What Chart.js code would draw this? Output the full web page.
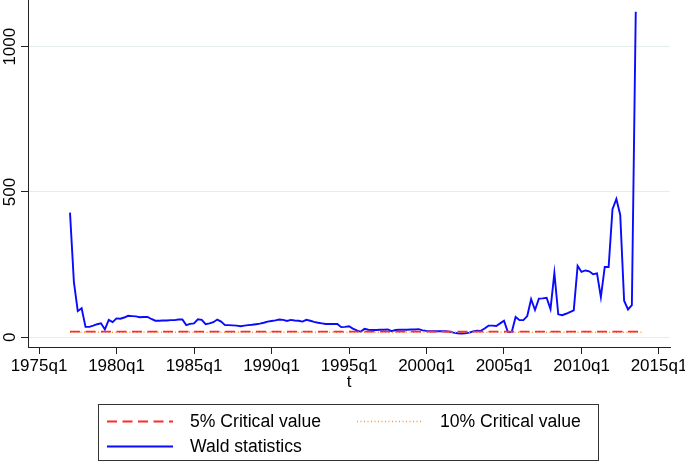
<!DOCTYPE html>
<html><head><meta charset="utf-8">
<script src="https://cdn.jsdelivr.net/npm/chart.js@4"></script>
<style>html,body{margin:0;padding:0;background:#fff}</style>
</head><body>
<canvas id="c" width="685" height="462"></canvas>
<script>
// ---- data ----
const firstYear = 1977, lastYear = 2014;      // quarterly categories 1977q1 .. 2014q1
const quarterLabels = [];
for (let y = firstYear; y <= lastYear; y++) for (let q = 1; q <= 4; q++) {
  if (y === lastYear && q > 1) break;
  quarterLabels.push(y + 'q' + q);
}
const waldStatistics = [
  429,191,90,100,  36,36,40,45,  48,27,60,52,  65,64,68,74,  73,72,69,70,
  70,63,57,57,  58,58,59,59,  61,61,42,46,  48,62,60,45,  48,52,61,54,
  42,42,41,40,  38,40,42,43,  45,47,50,54,  56,58,61,60,  56,60,58,57,
  54,60,57,53,  50,48,46,46,  46,46,35,36,  38,30,24,19,  29,26,25,25,
  26,26,27,21,  25,26,26,26,  27,27,28,24,  22,21,21,21,  21,21,19,16,
  14,13,14,16,  20,23,22,30,  40,40,39,48,  57,18,18,70,  59,59,73,131,
  94,133,134,136,  97,221,79,76,  81,87,93,246,  225,230,227,217,
  220,138,242,242,  441,476,421,126,  96,111,1120
];
const critical5 = 19.5;
const critical10 = 17.5;
const seriesNames = ['5% Critical value', '10% Critical value', 'Wald statistics'];
const xTickValues = ['1975q1','1980q1','1985q1','1990q1','1995q1','2000q1','2005q1','2010q1','2015q1'];
const yTickValues = [0, 500, 1000];
const yTickLabels = ['0', '500', '1000'];

// quarter label -> quarters since 1975q1
function qIndex(label) {
  const [y, q] = label.split('q').map(Number);
  return (y - 1975) * 4 + (q - 1);
}
const xTickPositions = xTickValues.map(qIndex);

const FONT = '"Liberation Sans", Arial, Helvetica, sans-serif';

const customPlugin = {
  id: 'custom',
  afterDraw(chart) {
    const ctx = chart.ctx;
    const ys = chart.scales.y;
    ctx.save();
    ctx.fillStyle = '#000';
    ctx.font = '17px ' + FONT;
    ctx.textAlign = 'center';
    ctx.textBaseline = 'alphabetic';
    yTickValues.forEach((v, i) => {
      const py = ys.getPixelForValue(v);
      ctx.save();
      ctx.translate(15, py);
      ctx.rotate(-Math.PI / 2);
      ctx.fillText(yTickLabels[i], 0, 0);
      ctx.restore();
    });
    // legend box
    ctx.strokeStyle = '#333';
    ctx.lineWidth = 1;
    ctx.strokeRect(98.5, 404.5, 500, 56);
    ctx.font = '17.6px ' + FONT;
    const slots = [{x:107, y:421}, {x:357, y:421}, {x:107, y:446}];
    chart.data.datasets.forEach((ds, i) => {
      const s = slots[i];
      ctx.save();
      ctx.strokeStyle = ds.borderColor;
      ctx.lineWidth = ds.borderWidth;
      ctx.setLineDash(ds.borderDash || []);
      ctx.beginPath();
      ctx.moveTo(s.x, s.y + 0.5);
      ctx.lineTo(s.x + 66, s.y + 0.5);
      ctx.stroke();
      ctx.restore();
      ctx.textAlign = 'left';
      ctx.textBaseline = 'middle';
      ctx.fillText(ds.label, s.x + 83, s.y + 1);
    });
    ctx.restore();
  }
};

new Chart(document.getElementById('c'), {
  type: 'line',
  data: {
    datasets: [
      {
        label: seriesNames[0],
        data: quarterLabels.map(l => ({x: qIndex(l), y: critical5})),
        borderColor: '#ff2a2a', borderWidth: 1.8, borderDash: [10, 5.5]
      },
      {
        label: seriesNames[1],
        data: quarterLabels.map(l => ({x: qIndex(l), y: critical10})),
        borderColor: '#f59a3a', borderWidth: 1.4, borderDash: [1, 2.5]
      },
      {
        label: seriesNames[2],
        data: waldStatistics.map((v, i) => ({x: qIndex(quarterLabels[i]), y: v})),
        borderColor: '#0a0aff', borderWidth: 1.9
      }
    ]
  },
  options: {
    responsive: false,
    animation: false,
    layout: {padding: {left: 0, right: 15, top: 0, bottom: 65}},
    plugins: {legend: {display: false}, tooltip: {enabled: false}},
    elements: {point: {radius: 0}, line: {tension: 0, fill: false}},
    scales: {
      x: {
        type: 'linear', min: -2.84, max: 162.84,
        afterBuildTicks: s => { s.ticks = xTickPositions.map(v => ({value: v})); },
        afterFit: s => { s.height = 50; s.paddingLeft = 0; s.paddingRight = 0; },
        ticks: {
          callback: (v, i) => xTickValues[i],
          font: {family: FONT, size: 17}, color: '#000', padding: 2,
          maxRotation: 0, minRotation: 0, autoSkip: false
        },
        grid: {drawOnChartArea: false, drawTicks: true, tickLength: 7, tickColor: '#222'},
        border: {color: '#222', width: 1},
        title: {display: true, text: 't', font: {family: FONT, size: 17}, color: '#000', padding: {top: 0, bottom: 4}}
      },
      y: {
        type: 'linear', min: -33.4, max: 1160.7,
        afterBuildTicks: s => { s.ticks = yTickValues.map(v => ({value: v})); },
        afterFit: s => { s.width = 28; },
        ticks: {display: false},
        grid: {color: '#e4ecee', lineWidth: 1, drawTicks: true, tickLength: 7, tickColor: '#222'},
        border: {color: '#222', width: 1}
      }
    }
  },
  plugins: [customPlugin]
});
</script>
</body></html>
